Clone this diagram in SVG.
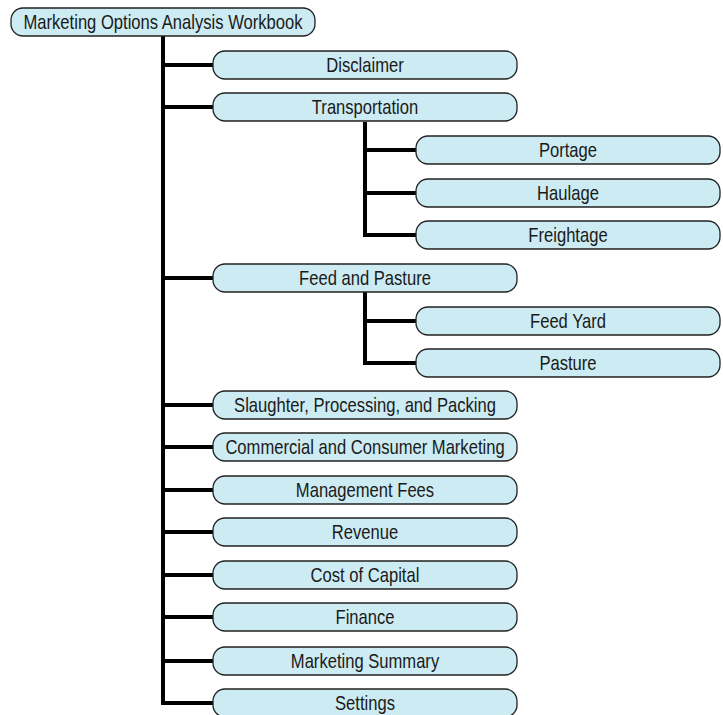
<svg xmlns="http://www.w3.org/2000/svg" width="723" height="715" viewBox="0 0 723 715">
<style>
.box{fill:#cdebf2;stroke:#222;stroke-width:1.3}
.t{font-family:"Liberation Sans",Arial,sans-serif;font-size:20px;fill:#1a1a1a;text-anchor:middle;dominant-baseline:central}
.c{stroke:#000;stroke-width:4;fill:none}
</style>
<rect width="723" height="715" fill="#fff"/>
<g id="connectors">
<path class="c" d="M163,36V703"/>
<path class="c" d="M163,65H213M163,107H213M163,278H213M163,405H213M163,447H213M163,490H213M163,532H213M163,575H213M163,617H213M163,661H213M161,703H213"/>
<path class="c" d="M365,122V235M363,150H416M363,193H416M363,235H416"/>
<path class="c" d="M365,292V363M363,321H416M363,363H416"/>
</g>
<g id="root"><rect class="box" x="11" y="8" width="304" height="28" rx="12"/><text class="t" transform="translate(163 22) scale(0.83 1)">Marketing Options Analysis Workbook</text></g>
<g id="disclaimer"><rect class="box" x="213" y="51" width="304" height="28" rx="12"/><text class="t" transform="translate(365 65) scale(0.83 1)">Disclaimer</text></g>
<g id="transportation"><rect class="box" x="213" y="93" width="304" height="28" rx="12"/><text class="t" transform="translate(365 107) scale(0.83 1)">Transportation</text></g>
<g id="portage"><rect class="box" x="416" y="136" width="304" height="28" rx="12"/><text class="t" transform="translate(568 150) scale(0.83 1)">Portage</text></g>
<g id="haulage"><rect class="box" x="416" y="179" width="304" height="28" rx="12"/><text class="t" transform="translate(568 193) scale(0.83 1)">Haulage</text></g>
<g id="freightage"><rect class="box" x="416" y="221" width="304" height="28" rx="12"/><text class="t" transform="translate(568 235) scale(0.83 1)">Freightage</text></g>
<g id="feed-pasture"><rect class="box" x="213" y="264" width="304" height="28" rx="12"/><text class="t" transform="translate(365 278) scale(0.83 1)">Feed and Pasture</text></g>
<g id="feed-yard"><rect class="box" x="416" y="307" width="304" height="28" rx="12"/><text class="t" transform="translate(568 321) scale(0.83 1)">Feed Yard</text></g>
<g id="pasture"><rect class="box" x="416" y="349" width="304" height="28" rx="12"/><text class="t" transform="translate(568 363) scale(0.83 1)">Pasture</text></g>
<g id="slaughter"><rect class="box" x="213" y="391" width="304" height="28" rx="12"/><text class="t" transform="translate(365 405) scale(0.83 1)">Slaughter, Processing, and Packing</text></g>
<g id="commercial"><rect class="box" x="213" y="433" width="304" height="28" rx="12"/><text class="t" transform="translate(365 447) scale(0.83 1)">Commercial and Consumer Marketing</text></g>
<g id="management-fees"><rect class="box" x="213" y="476" width="304" height="28" rx="12"/><text class="t" transform="translate(365 490) scale(0.83 1)">Management Fees</text></g>
<g id="revenue"><rect class="box" x="213" y="518" width="304" height="28" rx="12"/><text class="t" transform="translate(365 532) scale(0.83 1)">Revenue</text></g>
<g id="cost-of-capital"><rect class="box" x="213" y="561" width="304" height="28" rx="12"/><text class="t" transform="translate(365 575) scale(0.83 1)">Cost of Capital</text></g>
<g id="finance"><rect class="box" x="213" y="603" width="304" height="28" rx="12"/><text class="t" transform="translate(365 617) scale(0.83 1)">Finance</text></g>
<g id="marketing-summary"><rect class="box" x="213" y="647" width="304" height="28" rx="12"/><text class="t" transform="translate(365 661) scale(0.83 1)">Marketing Summary</text></g>
<g id="settings"><rect class="box" x="213" y="689" width="304" height="28" rx="12"/><text class="t" transform="translate(365 703) scale(0.83 1)">Settings</text></g>
</svg>
